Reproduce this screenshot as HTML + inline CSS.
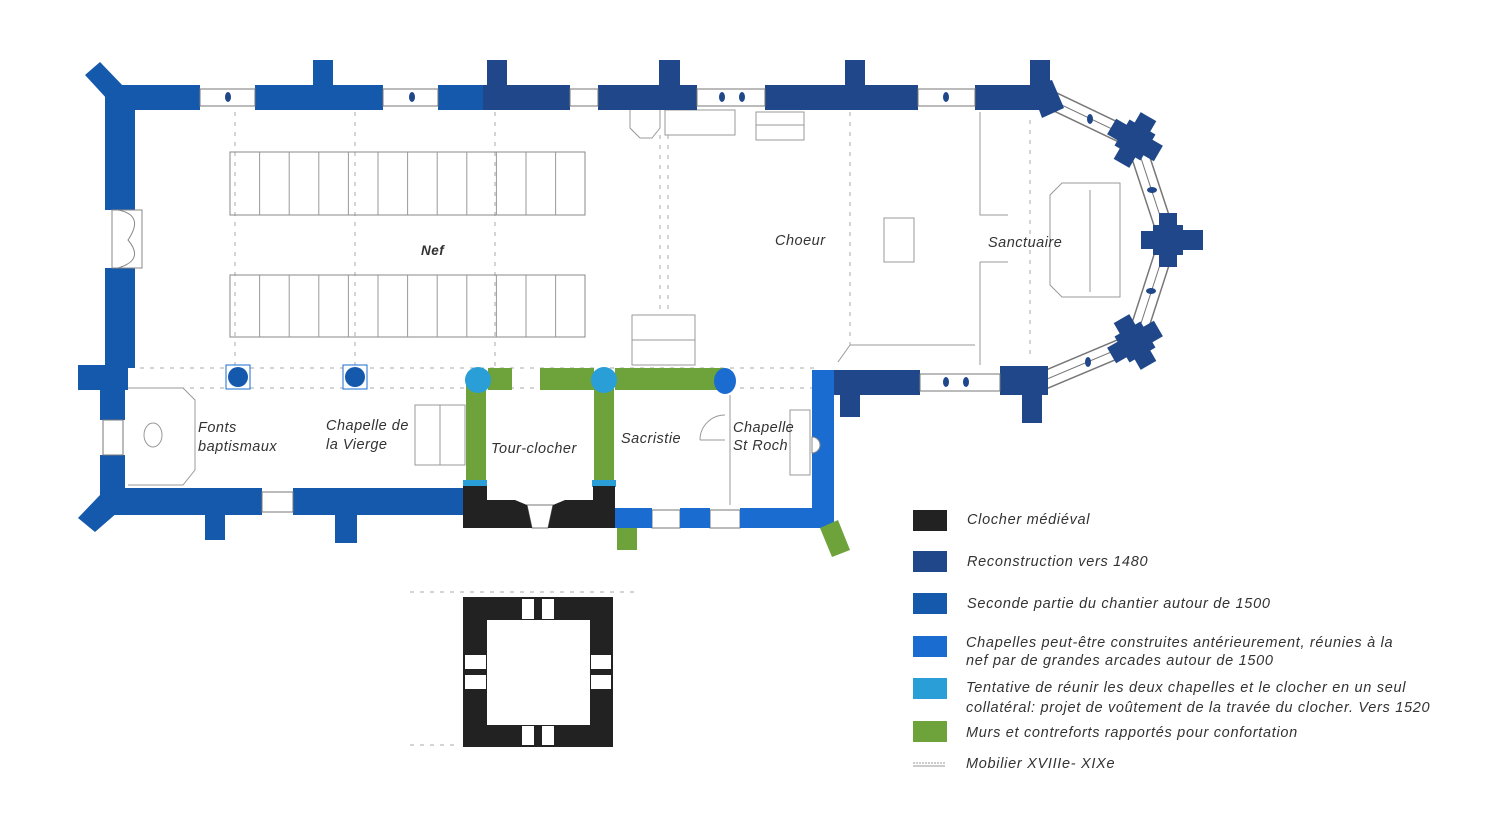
<!DOCTYPE html>
<html><head><meta charset="utf-8"><style>
html,body{margin:0;padding:0;background:#fff;}
svg{display:block;}
text{font-family:"Liberation Sans",sans-serif;font-style:italic;fill:#333;}
</style></head><body>
<svg width="1500" height="815" viewBox="0 0 1500 815" xmlns="http://www.w3.org/2000/svg">
<rect width="1500" height="815" fill="#fff"/>
<defs>
<g id="cross"><rect x="-15" y="-15" width="30" height="30"/><rect x="-9" y="-27" width="18" height="54"/><rect x="-27" y="-9" width="54" height="18"/></g>
</defs>
<!-- interior dashed lines -->
<g stroke="#aaa" stroke-width="1" stroke-dasharray="4,6" fill="none">
<line x1="235" y1="112" x2="235" y2="370"/><line x1="355" y1="112" x2="355" y2="370"/><line x1="495" y1="112" x2="495" y2="370"/>
<line x1="660" y1="135" x2="660" y2="315"/><line x1="668" y1="135" x2="668" y2="315"/>
<line x1="850" y1="112" x2="850" y2="345"/><line x1="1030" y1="120" x2="1030" y2="360"/>
<line x1="140" y1="368" x2="820" y2="368"/><line x1="130" y1="388" x2="820" y2="388"/>
<line x1="410" y1="592" x2="640" y2="592"/><line x1="410" y1="745" x2="460" y2="745"/>
</g>
<!-- pews -->
<g stroke="#888" stroke-width="1" fill="none">
<rect x="230" y="152" width="355" height="63"/><rect x="230" y="275" width="355" height="62"/>
</g>
<g stroke="#999" stroke-width="1">
<line x1="259.6" y1="152" x2="259.6" y2="215"/><line x1="289.2" y1="152" x2="289.2" y2="215"/><line x1="318.8" y1="152" x2="318.8" y2="215"/><line x1="348.4" y1="152" x2="348.4" y2="215"/><line x1="378" y1="152" x2="378" y2="215"/><line x1="407.6" y1="152" x2="407.6" y2="215"/><line x1="437.2" y1="152" x2="437.2" y2="215"/><line x1="466.8" y1="152" x2="466.8" y2="215"/><line x1="496.4" y1="152" x2="496.4" y2="215"/><line x1="526" y1="152" x2="526" y2="215"/><line x1="555.6" y1="152" x2="555.6" y2="215"/>
<line x1="259.6" y1="275" x2="259.6" y2="337"/><line x1="289.2" y1="275" x2="289.2" y2="337"/><line x1="318.8" y1="275" x2="318.8" y2="337"/><line x1="348.4" y1="275" x2="348.4" y2="337"/><line x1="378" y1="275" x2="378" y2="337"/><line x1="407.6" y1="275" x2="407.6" y2="337"/><line x1="437.2" y1="275" x2="437.2" y2="337"/><line x1="466.8" y1="275" x2="466.8" y2="337"/><line x1="496.4" y1="275" x2="496.4" y2="337"/><line x1="526" y1="275" x2="526" y2="337"/><line x1="555.6" y1="275" x2="555.6" y2="337"/>
</g>
<!-- furniture -->
<g stroke="#999" stroke-width="1" fill="none">
<path d="M630 110 V128 L640 138 H652 L660 128 V110"/>
<rect x="665" y="110" width="70" height="25"/>
<rect x="756" y="112" width="48" height="28"/><line x1="756" y1="125" x2="804" y2="125"/>
<rect x="884" y="218" width="30" height="44"/>
<path d="M980 112 V215 H1008 M980 262 H1008 M980 262 V365"/>
<path d="M1062 183 H1120 V297 H1062 L1050 285 V195 Z"/><line x1="1090" y1="190" x2="1090" y2="292"/>
<rect x="632" y="315" width="63" height="50"/><line x1="632" y1="340" x2="695" y2="340"/>
<path d="M850 345 L838 362 M850 345 H975"/>
<path d="M128 388 H183 L195 400 V470 L183 485 H128"/>
<ellipse cx="153" cy="435" rx="9" ry="12"/>
<rect x="415" y="405" width="50" height="60"/><line x1="440" y1="405" x2="440" y2="465"/>
<path d="M700 440 A25 25 0 0 1 725 415 M700 440 H725 M730 395 V505"/>
<rect x="790" y="410" width="20" height="65"/>
</g>
<!-- apse wall strips -->
<g fill="none" stroke-linecap="butt">
<polyline points="1045,97 1135,140 1168,240 1135,342 1040,382" stroke="#777" stroke-width="19"/>
<polyline points="1045,97 1135,140 1168,240 1135,342 1040,382" stroke="#fff" stroke-width="16"/>
<polyline points="1045,97 1135,140 1168,240 1135,342 1040,382" stroke="#777" stroke-width="1"/>
</g>
<!-- nave walls (seconde partie) -->
<g fill="#1559ad">
<rect x="105" y="85" width="95" height="25"/><rect x="255" y="85" width="128" height="25"/><rect x="438" y="85" width="45" height="25"/>
<rect x="313" y="60" width="20" height="30"/>
<polygon points="85,75 100,62 125,88 108,100"/>
<rect x="105" y="85" width="30" height="125"/><rect x="105" y="268" width="30" height="100"/>
<rect x="78" y="365" width="50" height="25"/>
<rect x="100" y="370" width="25" height="50"/><rect x="100" y="455" width="25" height="60"/>
<rect x="100" y="488" width="162" height="27"/><rect x="293" y="488" width="172" height="27"/>
<rect x="205" y="510" width="20" height="30"/><rect x="335" y="510" width="22" height="33"/>
<polygon points="78,518 100,495 118,512 95,532"/>
</g>
<!-- choir walls (1480) -->
<g fill="#1f4789">
<rect x="483" y="85" width="87" height="25"/><rect x="598" y="85" width="99" height="25"/><rect x="765" y="85" width="153" height="25"/><rect x="975" y="85" width="70" height="25"/>
<rect x="487" y="60" width="20" height="30"/><rect x="659" y="60" width="21" height="30"/><rect x="845" y="60" width="20" height="30"/><rect x="1030" y="60" width="20" height="40"/>
<rect x="832" y="370" width="88" height="25"/><rect x="840" y="390" width="20" height="27"/>
<rect x="1000" y="366" width="48" height="29"/><rect x="1022" y="390" width="20" height="33"/>
<use href="#cross" transform="translate(1135,140) rotate(30)"/>
<use href="#cross" transform="translate(1168,240) rotate(0)"/><rect x="1175" y="230" width="28" height="20"/>
<use href="#cross" transform="translate(1135,342) rotate(-30)"/>
<polygon points="1030,85 1052,80 1064,108 1042,118"/>
</g>
<!-- window strips -->
<g stroke="#777" stroke-width="1" fill="#fff">
<rect x="200" y="89" width="55" height="17"/><rect x="383" y="89" width="55" height="17"/><rect x="570" y="89" width="28" height="17"/><rect x="697" y="89" width="68" height="17"/><rect x="918" y="89" width="57" height="17"/><rect x="920" y="374" width="80" height="17"/>
<rect x="262" y="492" width="31" height="20"/><rect x="103" y="420" width="20" height="35"/>
<rect x="652" y="510" width="28" height="18"/><rect x="710" y="510" width="30" height="18"/>
<polygon points="527,505 553,505 548,528 532,528"/>
</g>
<g fill="#1f4789"><ellipse cx="228" cy="97" rx="3" ry="5"/><ellipse cx="412" cy="97" rx="3" ry="5"/><ellipse cx="722" cy="97" rx="3" ry="5"/><ellipse cx="742" cy="97" rx="3" ry="5"/><ellipse cx="946" cy="97" rx="3" ry="5"/><ellipse cx="946" cy="382" rx="3" ry="5"/><ellipse cx="966" cy="382" rx="3" ry="5"/><ellipse cx="1090" cy="119" rx="3" ry="5"/><ellipse cx="1152" cy="190" rx="5" ry="3"/><ellipse cx="1151" cy="291" rx="5" ry="3"/><ellipse cx="1088" cy="362" rx="3" ry="5"/></g>
<!-- door -->
<g stroke="#888" fill="#fff"><rect x="112" y="210" width="30" height="58"/><path d="M118 210 Q145 215 128 240 Q145 260 118 268" fill="none"/></g>
<!-- chapelles walls -->
<g fill="#1a6cd0">
<rect x="812" y="370" width="22" height="158"/>
<rect x="615" y="508" width="37" height="20"/><rect x="680" y="508" width="30" height="20"/><rect x="740" y="508" width="92" height="20"/>
</g>
<path d="M812 437 A8 8 0 0 1 812 453 Z" fill="#fff" stroke="#888"/>
<!-- piers -->
<g><rect x="226" y="365" width="24" height="24" fill="#fff" stroke="#1a6cd0"/><circle cx="238" cy="377" r="10" fill="#1559ad"/>
<rect x="343" y="365" width="24" height="24" fill="#fff" stroke="#1a6cd0"/><circle cx="355" cy="377" r="10" fill="#1559ad"/></g>
<!-- green -->
<g fill="#6ea23a">
<rect x="466" y="375" width="20" height="110"/><rect x="594" y="375" width="20" height="110"/>
<rect x="488" y="368" width="24" height="22"/><rect x="540" y="368" width="54" height="22"/><rect x="615" y="368" width="110" height="22"/>
<rect x="617" y="528" width="20" height="22"/><polygon points="820,528 838,520 850,550 832,557"/>
</g>
<circle cx="478" cy="380" r="13" fill="#2a9ed6"/><circle cx="604" cy="380" r="13" fill="#2a9ed6"/>
<ellipse cx="725" cy="381" rx="11" ry="13" fill="#1a6cd0"/>
<rect x="463" y="480" width="24" height="7" fill="#2a9ed6"/><rect x="592" y="480" width="24" height="7" fill="#2a9ed6"/>
<!-- black tower base -->
<polygon points="463,486 487,486 487,500 515,500 527,505 532,528 463,528" fill="#222"/>
<polygon points="615,486 593,486 593,500 565,500 553,505 548,528 615,528" fill="#222"/>
<!-- lower tower plan -->
<rect x="463" y="597" width="150" height="150" fill="#222"/>
<rect x="487" y="620" width="103" height="105" fill="#fff"/>
<g fill="#fff"><rect x="522" y="599" width="12" height="20"/><rect x="542" y="599" width="12" height="20"/><rect x="522" y="726" width="12" height="19"/><rect x="542" y="726" width="12" height="19"/><rect x="465" y="655" width="21" height="14"/><rect x="465" y="675" width="21" height="14"/><rect x="591" y="655" width="20" height="14"/><rect x="591" y="675" width="20" height="14"/></g>
<!-- labels -->
<g font-size="14.5" letter-spacing="0.5">
<text x="421" y="255" font-weight="bold" font-size="13.5">Nef</text>
<text x="775" y="245">Choeur</text>
<text x="988" y="247">Sanctuaire</text>
<text x="198" y="432">Fonts</text><text x="198" y="451">baptismaux</text>
<text x="326" y="430">Chapelle de</text><text x="326" y="449">la Vierge</text>
<text x="491" y="453">Tour-clocher</text>
<text x="621" y="443">Sacristie</text>
<text x="733" y="432">Chapelle</text><text x="733" y="450">St Roch</text>
</g>
<!-- legend -->
<rect x="913" y="510" width="34" height="21" fill="#222"/>
<rect x="913" y="551" width="34" height="21" fill="#1f4789"/>
<rect x="913" y="593" width="34" height="21" fill="#1559ad"/>
<rect x="913" y="636" width="34" height="21" fill="#1a6cd0"/>
<rect x="913" y="678" width="34" height="21" fill="#2a9ed6"/>
<rect x="913" y="721" width="34" height="21" fill="#6ea23a"/>
<line x1="913" y1="763" x2="945" y2="763" stroke="#999" stroke-dasharray="2,1"/><line x1="913" y1="766" x2="945" y2="766" stroke="#999"/>
<g font-size="14.5" letter-spacing="0.7">
<text x="967" y="524">Clocher médiéval</text>
<text x="967" y="566">Reconstruction vers 1480</text>
<text x="967" y="608">Seconde partie du chantier autour de 1500</text>
<text x="966" y="647">Chapelles peut-être construites antérieurement, réunies à la</text>
<text x="966" y="665">nef par de grandes arcades autour de 1500</text>
<text x="966" y="692">Tentative de réunir les deux chapelles et le clocher en un seul</text>
<text x="966" y="712">collatéral: projet de voûtement de la travée du clocher. Vers 1520</text>
<text x="966" y="737">Murs et contreforts rapportés pour confortation</text>
<text x="966" y="768">Mobilier XVIIIe- XIXe</text>
</g>
</svg>
</body></html>
